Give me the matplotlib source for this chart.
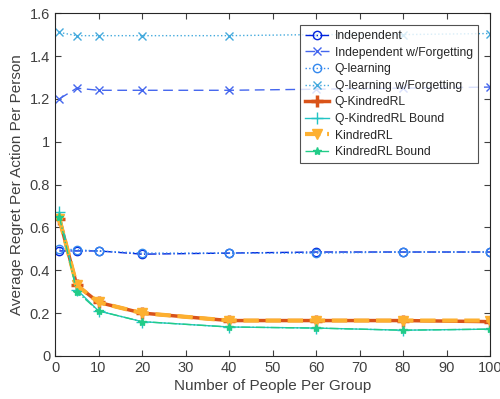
import matplotlib
matplotlib.use("Agg")
import matplotlib.pyplot as plt

x = [1, 5, 10, 20, 40, 60, 80, 100]
independent = [0.49, 0.49, 0.49, 0.475, 0.48, 0.485, 0.485, 0.485]
independent_forget = [1.20, 1.25, 1.24, 1.24, 1.24, 1.245, 1.25, 1.255]
qlearning = [0.50, 0.495, 0.49, 0.48, 0.48, 0.48, 0.485, 0.485]
qlearning_forget = [1.51, 1.495, 1.495, 1.495, 1.495, 1.50, 1.50, 1.505]
q_kindred = [0.64, 0.33, 0.25, 0.20, 0.165, 0.165, 0.165, 0.16]
q_kindred_bound = [0.67, 0.31, 0.21, 0.16, 0.135, 0.13, 0.12, 0.125]
kindred = [0.64, 0.33, 0.25, 0.20, 0.165, 0.165, 0.165, 0.165]
kindred_bound = [0.65, 0.30, 0.21, 0.16, 0.135, 0.13, 0.12, 0.125]

plt.rcParams['font.family'] = ['Liberation Sans', 'DejaVu Sans']
fig = plt.figure(figsize=(5, 3.99), dpi=100)
ax = fig.add_axes([0.11, 0.108, 0.87, 0.859])

ax.plot(x, independent, linestyle='-.', color='#0022dd', marker='o', mfc='none', ms=6, lw=1, label='Independent')
ax.plot(x, independent_forget, linestyle=(0, (7, 4)), color='#4466ee', marker='x', ms=6, lw=1, label='Independent w/Forgetting')
ax.plot(x, qlearning, linestyle=':', color='#3388ee', marker='o', mfc='none', ms=6, lw=1, label='Q-learning')
ax.plot(x, qlearning_forget, linestyle=':', color='#44aadd', marker='x', ms=6, lw=1, label='Q-learning w/Forgetting')
ax.plot(x, q_kindred, linestyle='-', color='#d95319', marker='+', ms=8, mew=2.5, lw=2.5, label='Q-KindredRL')
ax.plot(x, q_kindred_bound, linestyle='-', color='#22c4c4', marker='+', ms=8, lw=1, label='Q-KindredRL Bound')
ax.plot(x, kindred, linestyle='--', color='#fdb030', marker='v', ms=7, lw=3, label='KindredRL')
ax.plot(x, kindred_bound, linestyle='-.', color='#22cc88', marker='*', ms=6, lw=1, label='KindredRL Bound')

ax.set_xlim(0, 100)
ax.set_ylim(0, 1.6)
ax.set_xticks(range(0, 101, 10))
ax.set_yticks([0, 0.2, 0.4, 0.6, 0.8, 1, 1.2, 1.4, 1.6])
ax.set_yticklabels(['0', '0.2', '0.4', '0.6', '0.8', '1', '1.2', '1.4', '1.6'])
ax.tick_params(direction='in', top=True, right=True, labelsize=10.5, colors='#404040', length=4)
for s in ax.spines.values():
    s.set_color('#262626')
    s.set_linewidth(0.8)
ax.set_xlabel('Number of People Per Group', fontsize=11, color='#404040', labelpad=3)
ax.set_ylabel('Average Regret Per Action Per Person', fontsize=11, color='#404040')
leg = ax.legend(loc='upper right', bbox_to_anchor=(0.972, 0.965), borderaxespad=0, fontsize=8.7, frameon=True,
                fancybox=False, edgecolor='#262626', handlelength=2.0, handletextpad=0.5, borderpad=0.4,
                labelspacing=0.38)
leg.get_frame().set_linewidth(0.8)
for t in leg.get_texts():
    t.set_color('#262626')
fig.savefig('out.png', dpi=100)
